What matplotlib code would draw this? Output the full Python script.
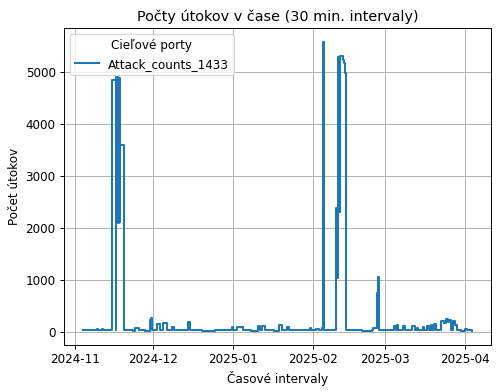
import pandas as pd
import matplotlib
matplotlib.use("Agg")
import matplotlib.pyplot as plt

# step breakpoints of the 30-min attack counts (value holds until next time)
times = [
    "2024-11-04 02:00", "2024-11-06 00:00", "2024-11-08 12:00", "2024-11-09 06:00",
    "2024-11-09 20:00", "2024-11-11 04:00", "2024-11-11 18:00", "2024-11-13 10:00",
    "2024-11-14 12:00", "2024-11-15 07:00", "2024-11-16 14:00", "2024-11-16 20:00",
    "2024-11-17 14:00", "2024-11-17 17:00", "2024-11-18 04:00", "2024-11-18 10:00",
    "2024-11-19 17:00", "2024-11-21 12:00", "2024-11-23 06:00", "2024-11-24 00:00",
    "2024-11-25 14:00", "2024-11-28 00:00", "2024-11-29 18:00", "2024-11-30 04:00",
    "2024-11-30 16:00", "2024-12-02 12:00", "2024-12-03 14:00", "2024-12-04 20:00",
    "2024-12-06 10:00", "2024-12-08 08:00", "2024-12-09 00:00", "2024-12-14 10:00",
    "2024-12-15 06:00", "2024-12-20 00:00", "2024-12-25 00:00", "2024-12-31 12:00",
    "2025-01-01 04:00", "2025-01-02 18:00", "2025-01-04 18:00", "2025-01-08 00:00",
    "2025-01-10 14:00", "2025-01-11 12:00", "2025-01-12 06:00", "2025-01-13 06:00",
    "2025-01-17 00:00", "2025-01-19 00:00", "2025-01-19 20:00", "2025-01-22 00:00",
    "2025-01-22 20:00", "2025-01-26 00:00", "2025-01-30 20:00", "2025-01-31 10:00",
    "2025-02-02 06:00", "2025-02-03 12:00", "2025-02-04 12:00", "2025-02-05 00:00",
    "2025-02-05 10:00", "2025-02-07 00:00", "2025-02-09 22:00", "2025-02-10 09:00",
    "2025-02-10 16:00", "2025-02-11 10:00", "2025-02-11 12:00", "2025-02-12 06:00",
    "2025-02-12 14:00", "2025-02-12 22:00", "2025-02-13 06:00", "2025-02-13 16:00",
    "2025-02-16 00:00", "2025-02-20 00:00", "2025-02-24 00:00", "2025-02-24 10:00",
    "2025-02-25 16:00", "2025-02-26 00:00", "2025-02-26 12:00", "2025-03-01 00:00",
    "2025-03-04 10:00", "2025-03-05 02:00", "2025-03-05 16:00", "2025-03-06 02:00",
    "2025-03-08 00:00", "2025-03-08 16:00", "2025-03-11 12:00", "2025-03-12 10:00",
    "2025-03-13 10:00", "2025-03-13 20:00", "2025-03-15 10:00", "2025-03-16 00:00",
    "2025-03-17 08:00", "2025-03-18 00:00", "2025-03-18 14:00", "2025-03-19 04:00",
    "2025-03-19 22:00", "2025-03-20 12:00", "2025-03-22 14:00", "2025-03-23 20:00",
    "2025-03-24 12:00", "2025-03-25 04:00", "2025-03-25 20:00", "2025-03-26 12:00",
    "2025-03-27 04:00", "2025-03-28 00:00", "2025-03-28 14:00", "2025-03-29 10:00",
    "2025-03-30 06:00", "2025-03-31 18:00", "2025-04-01 16:00", "2025-04-03 10:00",
]
counts = [
    22, 28, 35, 55,
    30, 45, 25, 40,
    30, 4840, 30, 4910,
    2090, 4880, 2100, 3600,
    35, 25, 20, 65,
    30, 20, 230, 270,
    40, 140, 30, 160,
    35, 95, 25, 180,
    30, 20, 25, 90,
    30, 80, 25, 20,
    110, 40, 100, 25,
    20, 120, 30, 80,
    25, 35, 60, 25,
    50, 40, 60, 5570,
    30, 25, 2380, 1040,
    5290, 2300, 5300, 5310,
    5220, 5170, 4980, 30,
    25, 20, 30, 75,
    750, 1060, 30, 25,
    100, 30, 130, 30,
    100, 30, 100, 30,
    60, 25, 90, 30,
    100, 30, 120, 40,
    150, 40, 200, 170,
    250, 180, 230, 40,
    210, 130, 40, 25,
    20, 50, 25, 20,
]

series = pd.Series(counts, index=pd.to_datetime(times))

dpi = 86
fig, ax = plt.subplots(figsize=(500 / dpi, 392 / dpi), dpi=dpi)
fig.subplots_adjust(left=0.128, right=0.982, bottom=0.12, top=0.929)

ax.plot(series.index, series.values, drawstyle="steps-post",
        label="Attack_counts_1433", linewidth=1.7)

ax.set_title("Počty útokov v čase (30 min. intervaly)")
ax.set_xlabel("Časové intervaly")
ax.set_ylabel("Počet útokov")
ax.grid(True)
ax.legend(title="Cieľové porty", loc="upper left")

plt.savefig("out.png")
